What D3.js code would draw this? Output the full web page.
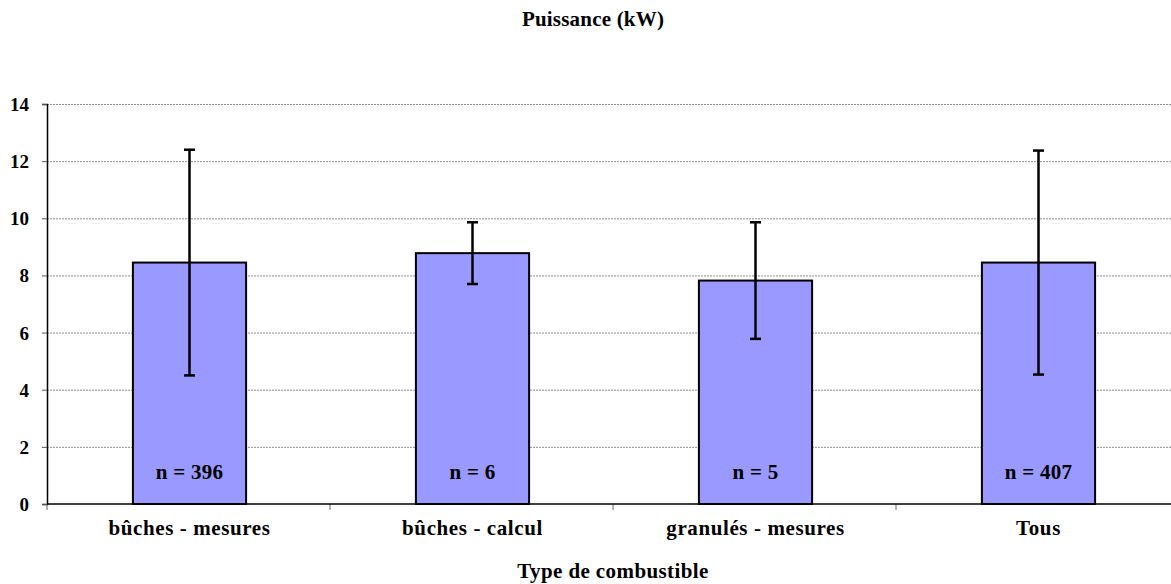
<!DOCTYPE html>
<html><head><meta charset="utf-8">
<script src="https://cdn.jsdelivr.net/npm/d3@7"></script>
<style>
html,body{margin:0;padding:0;background:#fff;overflow:hidden}
text{font-family:"Liberation Serif","Times New Roman",serif;font-weight:bold;fill:#000}
</style></head>
<body>
<script>
const categories = ["bûches - mesures", "bûches - calcul", "granulés - mesures", "Tous"];
const means = [8.45, 8.78, 7.82, 8.45];
const sds = [3.95, 1.08, 2.04, 3.92];
const counts = ["n = 396", "n = 6", "n = 5", "n = 407"];
const yTicks = [0, 2, 4, 6, 8, 10, 12, 14];
const title = "Puissance (kW)";
const xTitle = "Type de combustible";

const W = 1171, H = 584;
const svg = d3.select("body").append("svg").attr("width", W).attr("height", H);

const x = d3.scaleBand().domain(categories).range([47, 1179]).paddingInner(0.6).paddingOuter(0.3);
const xOuter = d3.scaleBand().domain(categories).range([47, 1179]);
const y = d3.scaleLinear().domain([0, 14]).range([504, 104]);

// gridlines
svg.append("g").selectAll("line").data(yTicks.filter(d => d > 0)).join("line")
  .attr("x1", 47).attr("x2", W).attr("y1", d => y(d) + 0.5).attr("y2", d => y(d) + 0.5)
  .attr("stroke", "#8f8f8f").attr("stroke-width", 1).attr("stroke-dasharray", "2,1");

// y axis
const yAxis = svg.append("g").attr("transform", "translate(47,0)")
  .call(d3.axisLeft(y).tickValues(yTicks).tickSize(5).tickPadding(13).tickFormat(d3.format("d")));
yAxis.select(".domain").attr("stroke", "#000").attr("stroke-width", 1.5);
yAxis.selectAll(".tick line").attr("stroke", "#555");
yAxis.selectAll(".tick text").style("font-size", "19px").attr("dy", "0.34em")
  .style("font-family", "Liberation Serif").style("font-weight", "bold").attr("fill", "#000");

// x axis ticks (between categories)
const xBounds = [47].concat(categories.map(c => xOuter(c) + xOuter.bandwidth()));
svg.append("g").selectAll("line").data(xBounds).join("line")
  .attr("x1", d => d).attr("x2", d => d).attr("y1", 504).attr("y2", 510)
  .attr("stroke", "#666").attr("stroke-width", 1);

// bars
svg.append("g").selectAll("rect").data(categories).join("rect")
  .attr("x", d => x(d) + 1).attr("width", x.bandwidth())
  .attr("y", (d, i) => y(means[i])).attr("height", (d, i) => y(0) - y(means[i]))
  .attr("fill", "#9999FF").attr("stroke", "#000").attr("stroke-width", 2);

// error bars
const eg = svg.append("g").attr("stroke", "#000").attr("stroke-width", 2.5);
categories.forEach((c, i) => {
  const cx = x(c) + x.bandwidth() / 2 + 1;
  const top = y(means[i] + sds[i]), bot = y(means[i] - sds[i]);
  eg.append("line").attr("x1", cx).attr("x2", cx).attr("y1", top).attr("y2", bot);
  eg.append("line").attr("x1", cx - 5.5).attr("x2", cx + 5.5).attr("y1", top).attr("y2", top);
  eg.append("line").attr("x1", cx - 5.5).attr("x2", cx + 5.5).attr("y1", bot).attr("y2", bot);
});

// bottom axis line
svg.append("line").attr("x1", 47).attr("x2", W).attr("y1", 504).attr("y2", 504)
  .attr("stroke", "#000").attr("stroke-width", 1.5);

// count labels
svg.append("g").selectAll("text").data(categories).join("text")
  .attr("x", d => x(d) + x.bandwidth() / 2 + 1).attr("y", 479)
  .attr("text-anchor", "middle").style("font-size", "21px").style("letter-spacing", "0.3px")
  .text((d, i) => counts[i]);

// category labels
svg.append("g").selectAll("text").data(categories).join("text")
  .attr("x", d => x(d) + x.bandwidth() / 2 + 1).attr("y", 535)
  .attr("text-anchor", "middle").style("font-size", "21px").style("letter-spacing", "0.6px")
  .text(d => d);

// titles
svg.append("text").attr("x", 593).attr("y", 26).attr("text-anchor", "middle")
  .style("font-size", "21px").style("letter-spacing", "0.2px").text(title);
svg.append("text").attr("x", 613).attr("y", 578).attr("text-anchor", "middle")
  .style("font-size", "21px").style("letter-spacing", "0.4px").text(xTitle);
</script>
</body></html>
